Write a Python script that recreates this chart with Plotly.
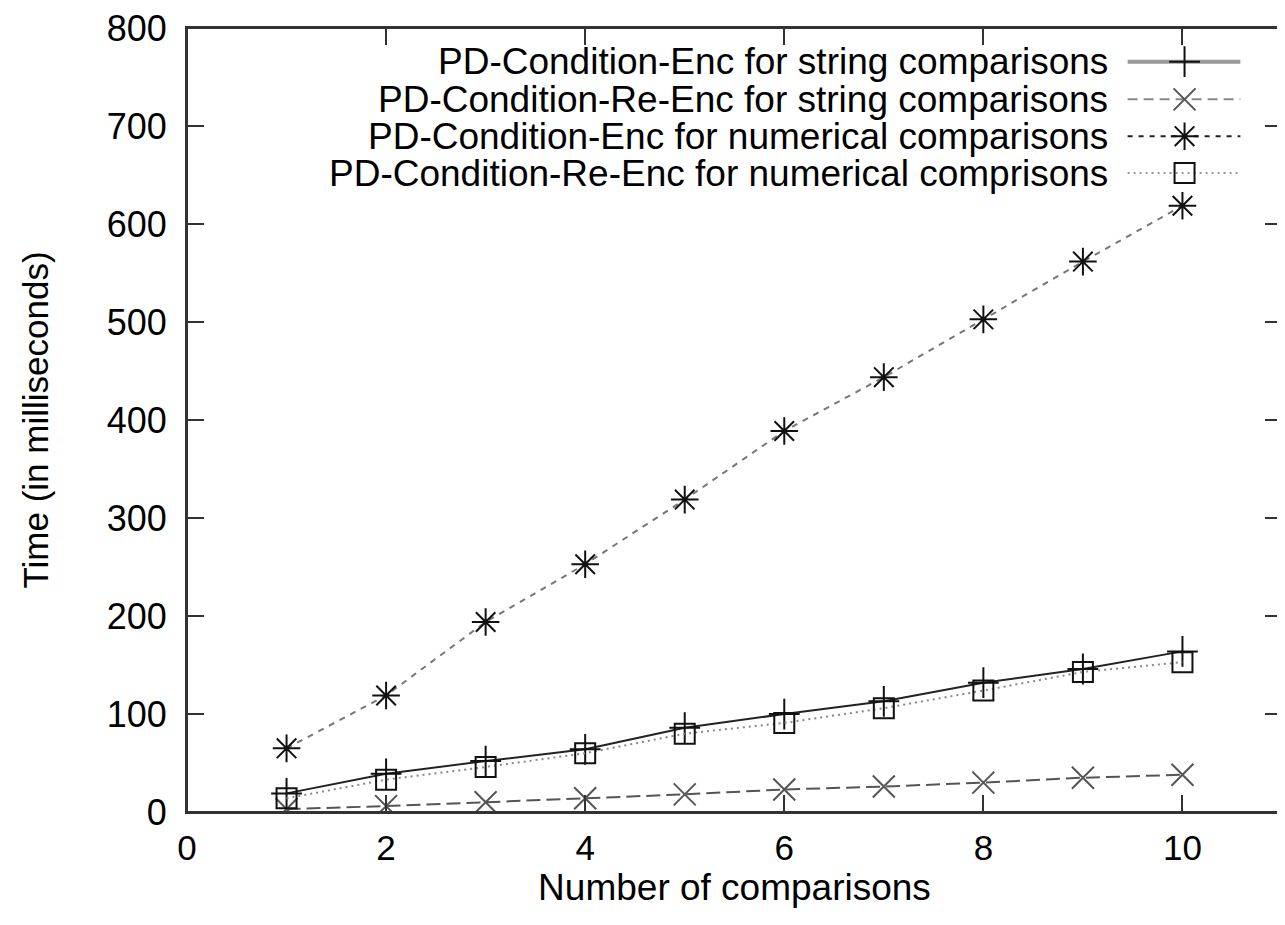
import plotly.graph_objects as go

# ---- data ----
comparisons = [1, 2, 3, 4, 5, 6, 7, 8, 9, 10]
enc_string = [19, 39, 52, 64, 86, 100, 113, 132, 146, 164]
reenc_string = [3, 6, 10, 14, 18, 23, 26, 30, 35, 38]
enc_numerical = [65, 119, 194, 253, 319, 389, 444, 503, 562, 619]
reenc_numerical = [14, 33, 46, 60, 80, 91, 106, 124, 143, 153]
series_names = [
    "PD-Condition-Enc for string comparisons",
    "PD-Condition-Re-Enc for string comparisons",
    "PD-Condition-Enc for numerical comparisons",
    "PD-Condition-Re-Enc for numerical comprisons",
]
x_ticks = [0, 2, 4, 6, 8, 10]
y_ticks = [0, 100, 200, 300, 400, 500, 600, 700, 800]

FONT = "Liberation Sans, Arial, sans-serif"

styles = [
    dict(line=dict(color="#222222", width=2, dash="solid"),
         marker=dict(symbol="cross-thin-open", size=22, color="#111111", line=dict(width=2, color="#111111")),
         legend_line=dict(color="#999999", width=4, dash="solid")),
    dict(line=dict(color="#555555", width=2, dash="14px,6px"),
         marker=dict(symbol="x-thin-open", size=22, color="#555555", line=dict(width=2, color="#555555")),
         legend_line=dict(color="#888888", width=2, dash="10px,6px")),
    dict(line=dict(color="#777777", width=2, dash="6px,6px"),
         marker=dict(symbol="asterisk-open", size=23, color="#111111", line=dict(width=2, color="#111111")),
         legend_line=dict(color="#222222", width=2, dash="5px,6px")),
    dict(line=dict(color="#888888", width=2, dash="2px,4px"),
         marker=dict(symbol="square-open", size=20, color="#111111", line=dict(width=2, color="#111111")),
         legend_line=dict(color="#999999", width=2, dash="2px,4px")),
]
all_series = [enc_string, reenc_string, enc_numerical, reenc_numerical]

fig = go.Figure()
for name, ys, st in zip(series_names, all_series, styles):
    fig.add_trace(go.Scatter(
        x=comparisons, y=ys, mode="lines+markers", name=name,
        line=st["line"], marker=st["marker"], showlegend=False,
    ))

# gnuplot-style key: text right-aligned, sample at right (drawn on a hidden overlay axis)
key_rows = [0.957, 0.909, 0.862, 0.815]
key_x0, key_xm, key_x1, key_text_x = 0.859, 0.911, 0.962, 0.843
for name, st, ky in zip(series_names, styles, key_rows):
    fig.add_trace(go.Scatter(
        x=[key_x0, key_x1], y=[ky, ky], mode="lines", line=st["legend_line"],
        xaxis="x2", yaxis="y2", showlegend=False, hoverinfo="skip",
    ))
    fig.add_trace(go.Scatter(
        x=[key_xm], y=[ky], mode="markers", marker=st["marker"],
        xaxis="x2", yaxis="y2", showlegend=False, hoverinfo="skip",
    ))
    fig.add_annotation(
        x=key_text_x, y=ky, xref="paper", yref="paper", text=name,
        showarrow=False, xanchor="right", yanchor="middle",
        font=dict(family=FONT, size=37, color="#000000"),
    )

# plot frame
fig.add_shape(type="rect", xref="paper", yref="paper", x0=0, y0=0, x1=1, y1=1,
              line=dict(color="#333333", width=2), layer="above")

axis_common = dict(
    showgrid=False, zeroline=False, showline=True, linecolor="#333333", linewidth=2,
    mirror="ticks", ticks="inside", ticklen=17, tickwidth=2, tickcolor="#333333",
    automargin=False,
)
fig.update_layout(
    width=1285, height=925,
    margin=dict(l=179, r=11, t=20, b=121),
    paper_bgcolor="white", plot_bgcolor="white",
    font=dict(family=FONT, color="#000000"),
    xaxis=dict(
        range=[0, 11], tickvals=x_ticks, ticktext=[str(v) for v in x_ticks],
        tickfont=dict(family=FONT, size=35), ticklabelstandoff=4,
        title=dict(text="Number of comparisons", font=dict(family=FONT, size=37), standoff=1),
        **axis_common,
    ),
    yaxis=dict(
        range=[0, 800.5], tickvals=y_ticks, ticktext=[str(v) for v in y_ticks],
        tickfont=dict(family=FONT, size=36), ticklabelstandoff=11,
        ticklabeloverflow="allow",
        title=dict(text="Time (in milliseconds)", font=dict(family=FONT, size=35), standoff=47),
        **axis_common,
    ),
    xaxis2=dict(overlaying="x", range=[0, 1], visible=False),
    yaxis2=dict(overlaying="y", range=[0, 1], visible=False),
)

fig.write_html("out.html")
